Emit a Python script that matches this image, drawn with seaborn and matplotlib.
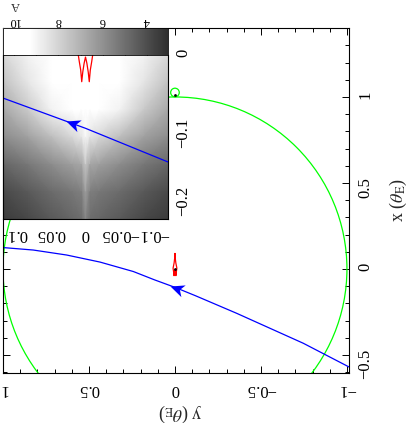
import numpy as np
import matplotlib
matplotlib.use('Agg')
import matplotlib.pyplot as plt
import seaborn as sns
from matplotlib.patches import Circle
from matplotlib.path import Path
from matplotlib.markers import MarkerStyle
from matplotlib.transforms import Affine2D
from matplotlib.colors import LinearSegmentedColormap
from matplotlib.ticker import MultipleLocator, FuncFormatter, NullLocator

# trayectoria de la fuente (y, x en theta_E)
traj_y = [1.02, 0.824, 0.630, 0.436, 0.242, 0.12, 0.0, -0.12, -0.359, -0.746, -1.02]
traj_x = [0.126, 0.110, 0.081, 0.040, -0.015, -0.063, -0.107, -0.156, -0.258, -0.432, -0.574]
arrow_y = 0.028

# caustica central, mitad derecha (cuspide superior -> cuspide interior)
caus_y_half = [0.0, 0.002, 0.005, 0.009, 0.011, 0.0105, 0.009, 0.007, 0.0055, 0.004, 0.002, 0.0]
caus_x_half = [0.09, 0.06, 0.035, 0.015, 0.005, 0.0, -0.01, -0.022, -0.039, -0.025, -0.012, -0.003]

# curvas criticas
ring_radius = 1.0
loop_y, loop_x, loop_radius = 0.0, 1.026, 0.025

# posiciones de las lentes
lens_y = [0.0, 0.0]
lens_x = [0.0, 1.01]

# mapa de magnificacion (recuadro), filas = x, columnas = |y|
map_x = [0.0, -0.04, -0.08, -0.12, -0.16, -0.20, -0.24]
map_absy = [0.0, 0.006, 0.02, 0.05, 0.085, 0.12]
mag_half = [
    [11, 11, 11, 11, 8.9, 8.1],
    [11, 11, 11, 11, 8.5, 7.5],
    [11, 11, 11, 8.9, 7.7, 6.7],
    [9.07, 8.54, 8.10, 7.32, 6.48, 5.87],
    [7.62, 6.63, 6.40, 5.87, 5.26, 4.73],
    [6.40, 5.49, 5.26, 4.88, 4.35, 3.89],
    [5.64, 4.96, 4.73, 4.35, 3.81, 3.43],
]
a_min, a_max, a_white = 3.05, 10.5, 9.3
cbar_major = [4, 6, 8, 10]
cbar_minor = [5, 7, 9]

sns.set_style('ticks')
plt.rcParams['font.family'] = ['Liberation Serif', 'DejaVu Serif']
plt.rcParams['mathtext.fontset'] = 'stix'
plt.rcParams['font.size'] = 12
plt.rcParams['axes.edgecolor'] = 'black'
plt.rcParams['axes.linewidth'] = 0.8

blue, green, red = '#0000ff', '#00ff00', '#ff0000'

caus_y = caus_y_half + [-v for v in caus_y_half[::-1]]
caus_x = caus_x_half + caus_x_half[::-1]

map_y = [-v for v in map_absy[:0:-1]] + map_absy
mag = np.array([row[:0:-1] + row for row in mag_half])
MY, MX = np.meshgrid(map_y, map_x)


def fmt(v, pos):
    if abs(v) < 1e-9:
        v = 0.0
    return ('%g' % v).replace('-', '\u2212')


fig = plt.figure(figsize=(4.09, 4.23), dpi=100)
ax = fig.add_axes([3 / 409, 50 / 423, 346 / 409, 345 / 423])
axin = fig.add_axes([3 / 409, 204 / 423, 165 / 409, 164 / 423])
cax = fig.add_axes([3 / 409, 368 / 423, 165 / 409, 27 / 423])

# ---- panel principal ----
ax.set_xlim(1.0, -1.012)
ax.set_ylim(-0.605, 1.401)
ax.add_patch(Circle((0, 0), ring_radius, fill=False, color=green, lw=0.9))
ax.add_patch(Circle((loop_y, loop_x), loop_radius, fill=False, color=green, lw=0.9))
sns.lineplot(x=traj_y, y=traj_x, sort=False, estimator=None, color=blue, lw=0.9, ax=ax)
sns.lineplot(x=caus_y, y=caus_x, sort=False, estimator=None, color=red, lw=0.9, ax=ax)
ax.plot(lens_y, lens_x, 'o', color='black', ms=2, mew=0)

ax.xaxis.set_major_locator(MultipleLocator(0.5))
ax.xaxis.set_minor_locator(MultipleLocator(0.1))
ax.yaxis.set_major_locator(MultipleLocator(0.5))
ax.yaxis.set_minor_locator(MultipleLocator(0.1))
ax.xaxis.set_major_formatter(FuncFormatter(fmt))
ax.yaxis.set_major_formatter(FuncFormatter(fmt))
ax.tick_params(which='both', direction='in', top=True, bottom=True, left=True, right=True,
               labelleft=False, labelright=True, width=0.7, colors='black')
ax.tick_params(which='major', length=5)
ax.tick_params(which='minor', length=2.8)
ax.tick_params(axis='x', labelrotation=180, pad=6)
ax.tick_params(axis='y', labelrotation=90, pad=6)

ax.set_xlabel(r'y ($\theta_{\rm E}$)', fontsize=13)
ax.xaxis.set_label_coords(0.512, -0.116)
ax.xaxis.label.set(rotation=180, va='center', ha='center', rotation_mode='anchor')
ax.set_ylabel(r'x ($\theta_{\rm E}$)', fontsize=13)
ax.yaxis.set_label_position('right')
ax.yaxis.set_label_coords(1.142, 0.5)
ax.yaxis.label.set(rotation=90, va='center', ha='center', rotation_mode='anchor')

# ---- recuadro ----
cmap = LinearSegmentedColormap.from_list(
    'amap', [(0.0, (0.18, 0.18, 0.18)),
             ((a_white - a_min) / (a_max - a_min), (1, 1, 1)),
             (1.0, (1, 1, 1))])
mesh = axin.pcolormesh(MY, MX, mag, cmap=cmap, vmin=a_min, vmax=a_max, shading='gouraud')
axin.set_xlim(0.1204, -0.1204)
axin.set_ylim(-0.2394, 0.0)
sns.lineplot(x=traj_y, y=traj_x, sort=False, estimator=None, color=blue, lw=0.9, ax=axin)
sns.lineplot(x=caus_y, y=caus_x, sort=False, estimator=None, color=red, lw=0.9, ax=axin)
axin.spines['top'].set_visible(False)

axin.xaxis.set_major_locator(MultipleLocator(0.05))
axin.xaxis.set_minor_locator(MultipleLocator(0.01))
axin.yaxis.set_major_locator(MultipleLocator(0.1))
axin.yaxis.set_minor_locator(NullLocator())
axin.xaxis.set_major_formatter(FuncFormatter(fmt))
axin.yaxis.set_major_formatter(FuncFormatter(fmt))
axin.tick_params(which='both', direction='in', top=True, bottom=True, left=True, right=True,
                 labelleft=False, labelright=True, width=0.7, colors='black')
axin.tick_params(which='major', length=5)
axin.tick_params(which='minor', length=2.8)
axin.tick_params(axis='x', labelrotation=180, pad=5)
axin.tick_params(axis='y', labelrotation=90, pad=5)
axin.set_xlabel('')
axin.set_ylabel('')

# flechas de direccion
arrow_path = Path([(0, 0), (-1, 0.45), (-0.72, 0), (-1, -0.45), (0, 0)],
                  [Path.MOVETO, Path.LINETO, Path.LINETO, Path.LINETO, Path.CLOSEPOLY])
seg = max(i for i in range(len(traj_y) - 1) if traj_y[i] >= arrow_y)
tip_x = np.interp(arrow_y, traj_y[::-1], traj_x[::-1])
for a in (ax, axin):
    p0 = a.transData.transform((traj_y[seg + 1], traj_x[seg + 1]))
    p1 = a.transData.transform((traj_y[seg], traj_x[seg]))
    ang = np.degrees(np.arctan2(p1[1] - p0[1], p1[0] - p0[0]))
    m = MarkerStyle(arrow_path, transform=Affine2D().rotate_deg(ang))
    a.plot([arrow_y], [tip_x], marker=m, ms=20, color=blue, mew=0, linestyle='none')

# ---- barra de color ----
cb = fig.colorbar(mesh, cax=cax, orientation='horizontal')
cax.invert_xaxis()
cb.set_ticks(cbar_major)
cb.set_ticks(cbar_minor, minor=True)
cb.outline.set_linewidth(0.6)
cb.outline.set_edgecolor('black')
cax.tick_params(which='both', direction='in', top=True, bottom=True, labeltop=True,
                labelbottom=False, labelrotation=180, length=4, width=0.7, pad=1,
                labelsize=9, colors='black')
cax.text(0.073, 1.84, 'A', rotation=180, ha='center', va='center', fontsize=9,
         transform=cax.transAxes)

fig.savefig('out.png', dpi=100)
